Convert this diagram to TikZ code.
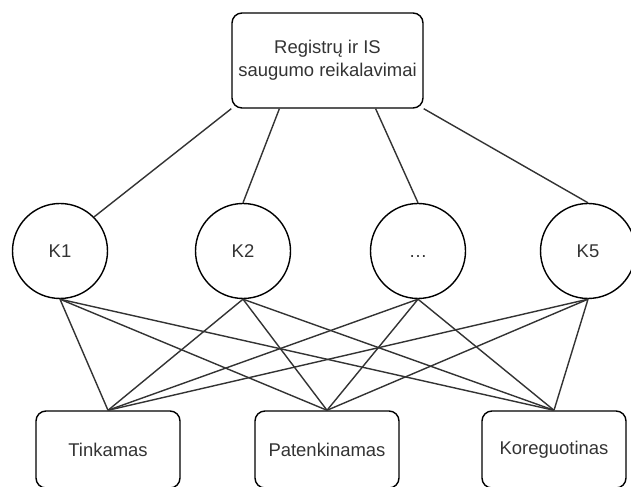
\documentclass[tikz,border=0pt]{standalone}
\usepackage{fontspec}
\setmainfont{Liberation Sans}
\usepackage{tikz}
\usetikzlibrary{calc}

\begin{document}
\begin{tikzpicture}[
    every node/.style={text=black!80, font=\fontsize{10.5}{13}\selectfont},
    lnk/.style={draw=black!80, line width=0.8pt},
    roundbox/.style={draw=black, line width=0.8pt, rounded corners=0.2cm, align=center, inner sep=0pt},
    krit/.style={draw=black, line width=0.8pt, circle, minimum size=1.9cm, inner sep=0pt}
  ]
    \useasboundingbox (0,0) rectangle (12.62,9.74);
    % top box
    \node[roundbox, minimum width=3.82cm, minimum height=1.9cm] (req) at (6.55,8.53) {Registrų ir IS\\saugumo reikalavimai};
    % criteria
    \node[krit] (k1) at (1.2,4.72) {K1};
    \node[krit] (k2) at (4.86,4.72) {K2};
    \node[krit] (k3) at (8.36,4.72) {\vphantom{K}\dots};
    \node[krit] (k5) at (11.76,4.72) {K5};
    % outcomes
    \node[roundbox, minimum width=2.88cm, minimum height=1.54cm] (tink) at (2.16,0.75) {Tinkamas};
    \node[roundbox, minimum width=2.88cm, minimum height=1.54cm] (pat) at (6.54,0.75) {Patenkinamas};
    \node[roundbox, minimum width=2.88cm, minimum height=1.54cm] (kor) at (11.08,0.75) {Koreguotinas};

    \coordinate (qa) at ($(req.south west)!0.25!(req.south east)$);
    \coordinate (qb) at ($(req.south west)!0.75!(req.south east)$);
    \draw[lnk] (req.south west) -- (k1.45);
    \draw[lnk] (qa) -- (k2.north);
    \draw[lnk] (qb) -- (k3.north);
    \draw[lnk] (req.south east) -- (k5.north);

    \foreach \k in {k1,k2,k3,k5}
        \foreach \b in {tink,pat,kor}
            \draw[lnk] (\k.south) -- (\b.north);
\end{tikzpicture}
\end{document}
